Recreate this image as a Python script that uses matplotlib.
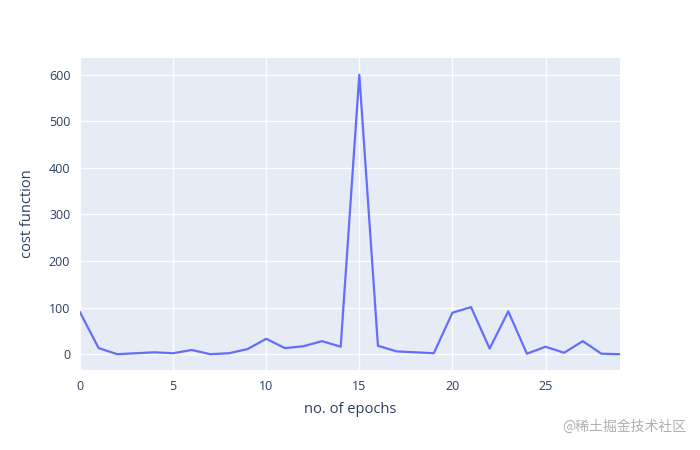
import matplotlib
matplotlib.use("Agg")
import matplotlib.pyplot as plt

epochs = list(range(30))
cost = [90, 13, 0, 2, 4, 2, 9, 0, 2, 11, 33, 13, 17, 28, 16, 600, 18, 6, 4, 2,
        89, 101, 12, 92, 1, 16, 3, 28, 1, 0]
x_ticks = [0, 5, 10, 15, 20, 25]
y_ticks = [0, 100, 200, 300, 400, 500, 600]

plt.rcParams['font.family'] = ['Open Sans', 'DejaVu Sans']
txt = '#2a3f5f'

fig = plt.figure(figsize=(7, 4.5), dpi=100)
ax = fig.add_axes([80/700, 80/450, 540/700, 312/450])
ax.set_facecolor('#E5ECF6')
ax.plot(epochs, cost, color='#636EFA', lw=1.6)
ax.set_xlim(0, 29)
ax.set_ylim(-34, 636)
ax.set_xticks(x_ticks)
ax.set_yticks(y_ticks)
ax.grid(True, color='white', lw=1)
ax.set_axisbelow(True)
for s in ax.spines.values():
    s.set_visible(False)
ax.tick_params(length=0, colors=txt, labelsize=9, pad=7)
ax.set_xlabel('no. of epochs', color=txt, fontsize=10.5, labelpad=7)
ax.set_ylabel('cost function', color=txt, fontsize=10.5, labelpad=10)
fig.text(0.98, 0.035, '@稀土掘金技术社区', ha='right', va='bottom', fontsize=10,
         color='#b0b0b0', family=['Noto Sans CJK SC', 'DejaVu Sans'])
fig.savefig('out.png', dpi=100, facecolor='white')
